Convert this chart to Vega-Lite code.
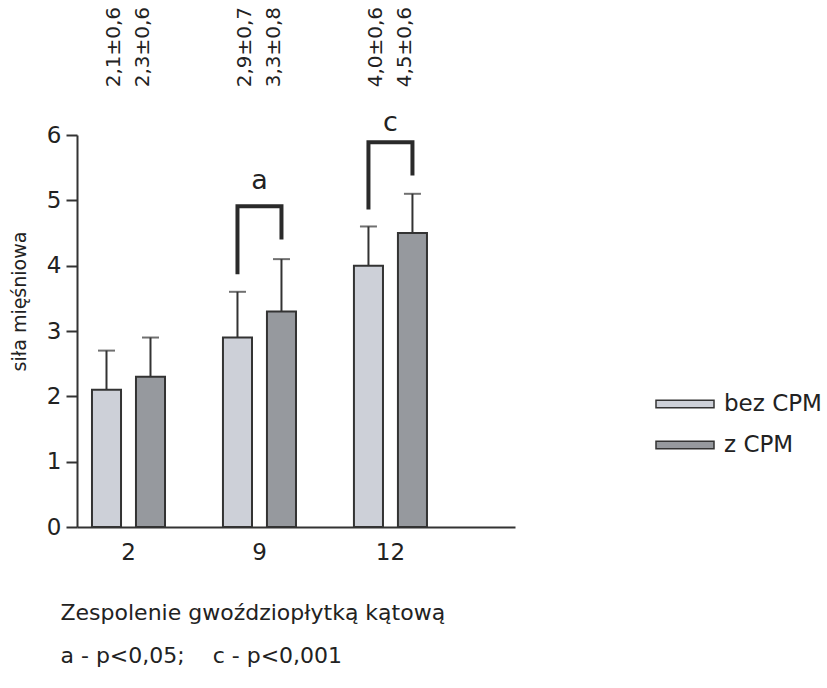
{
  "$schema": "https://vega.github.io/schema/vega-lite/v6.json",
  "width": 438,
  "height": 392,
  "autosize": "none",
  "padding": {"left": 77, "top": 135, "right": 312, "bottom": 161},
  "background": "white",
  "config": {
    "font": "DejaVu Sans",
    "view": {"stroke": null},
    "axis": {"grid": false, "domainColor": "#333333", "domainWidth": 2, "tickColor": "#333333", "tickWidth": 2, "labelColor": "#222222", "titleColor": "#222222", "titleFontWeight": "normal", "labelFont": "DejaVu Sans", "titleFont": "DejaVu Sans"},
    "legend": {"labelFont": "DejaVu Sans"}
  },
  "datasets": {
    "bars": [
      {"g": "2", "s": "bez CPM", "mean": 2.1, "sd": 0.6, "hi": 2.7, "label": "2,1±0,6"},
      {"g": "2", "s": "z CPM", "mean": 2.3, "sd": 0.6, "hi": 2.9, "label": "2,3±0,6"},
      {"g": "9", "s": "bez CPM", "mean": 2.9, "sd": 0.7, "hi": 3.6, "label": "2,9±0,7"},
      {"g": "9", "s": "z CPM", "mean": 3.3, "sd": 0.8, "hi": 4.1, "label": "3,3±0,8"},
      {"g": "12", "s": "bez CPM", "mean": 4.0, "sd": 0.6, "hi": 4.6, "label": "4,0±0,6"},
      {"g": "12", "s": "z CPM", "mean": 4.5, "sd": 0.6, "hi": 5.1, "label": "4,5±0,6"}
    ],
    "brackets": [
      {"br": "a", "g": "9", "s": "bez CPM", "v": 3.87, "o": 1},
      {"br": "a", "g": "9", "s": "bez CPM", "v": 4.91, "o": 2},
      {"br": "a", "g": "9", "s": "z CPM", "v": 4.91, "o": 3},
      {"br": "a", "g": "9", "s": "z CPM", "v": 4.40, "o": 4},
      {"br": "c", "g": "12", "s": "bez CPM", "v": 4.86, "o": 1},
      {"br": "c", "g": "12", "s": "bez CPM", "v": 5.89, "o": 2},
      {"br": "c", "g": "12", "s": "z CPM", "v": 5.89, "o": 3},
      {"br": "c", "g": "12", "s": "z CPM", "v": 5.38, "o": 4}
    ],
    "sig": [
      {"g": "9", "t": "a", "v": 5.29},
      {"g": "12", "t": "c", "v": 6.19}
    ]
  },
  "encoding": {
    "x": {
      "field": "g", "type": "nominal", "sort": ["2", "9", "12"],
      "scale": {"domain": ["2", "9", "12"], "paddingInner": 0.3, "paddingOuter": 0.322, "align": 0.067},
      "axis": {
        "ticks": false, "labelAngle": 0, "labelFontSize": 23, "labelPadding": 14,
        "title": ["Zespolenie gwoździopłytką kątową", "\u00a0a - p<0,05;\u00a0\u00a0\u00a0\u00a0c - p<0,001"],
        "titleFontSize": 22, "titleAnchor": "start", "titleAlign": "left", "titleBaseline": "alphabetic",
        "titleX": -17, "titleY": 92, "titleLineHeight": 43
      }
    }
  },
  "layer": [
    {
      "data": {"name": "bars"},
      "mark": {"type": "bar", "stroke": "#333333", "strokeWidth": 2},
      "encoding": {
        "xOffset": {"field": "s", "type": "nominal", "scale": {"domain": ["bez CPM", "z CPM"], "paddingInner": 0.34, "paddingOuter": 0.212}},
        "y": {
          "field": "mean", "type": "quantitative",
          "scale": {"domain": [0, 6], "nice": false, "zero": true},
          "axis": {"values": [0, 1, 2, 3, 4, 5, 6], "format": "d", "tickSize": 11, "labelFontSize": 23, "labelPadding": 5,
            "title": "siła mięśniowa", "titleFontSize": 19, "titleAngle": 270, "titleAlign": "center", "titleBaseline": "middle", "titleX": -58, "titleY": 166}
        },
        "color": {
          "field": "s", "type": "nominal",
          "scale": {"domain": ["bez CPM", "z CPM"], "range": ["#cdd0d8", "#96999e"]},
          "legend": {
            "title": null, "orient": "none", "legendX": 578, "legendY": 254,
            "symbolType": "M-1,-0.13H1V0.13H-1Z", "symbolSize": 3364, "symbolStrokeColor": "#333333", "symbolStrokeWidth": 1.5,
            "labelFontSize": 23, "labelColor": "#222222", "labelOffset": 9, "clipHeight": 30, "rowPadding": 11, "padding": 0
          }
        }
      }
    },
    {
      "data": {"name": "bars"},
      "mark": {"type": "rule", "color": "#333333", "strokeWidth": 2},
      "encoding": {
        "xOffset": {"field": "s", "type": "nominal"},
        "y": {"field": "mean", "type": "quantitative"},
        "y2": {"field": "hi"}
      }
    },
    {
      "data": {"name": "bars"},
      "mark": {"type": "tick", "color": "#333333", "size": 17, "thickness": 2},
      "encoding": {
        "xOffset": {"field": "s", "type": "nominal"},
        "y": {"field": "hi", "type": "quantitative"}
      }
    },
    {
      "data": {"name": "brackets"},
      "mark": {"type": "line", "color": "#2a2a2a", "strokeWidth": 4, "strokeJoin": "miter", "strokeCap": "butt"},
      "encoding": {
        "xOffset": {"field": "s", "type": "nominal"},
        "y": {"field": "v", "type": "quantitative"},
        "detail": {"field": "br"},
        "order": {"field": "o"}
      }
    },
    {
      "data": {"name": "sig"},
      "mark": {"type": "text", "fontSize": 27, "color": "#222222", "baseline": "middle", "align": "center"},
      "encoding": {
        "y": {"field": "v", "type": "quantitative"},
        "text": {"field": "t"}
      }
    },
    {
      "data": {"name": "bars"},
      "transform": [{"filter": "datum.s === 'bez CPM'"}],
      "mark": {"type": "text", "fontSize": 20, "color": "#222222", "angle": 270, "align": "left", "baseline": "middle", "dy": -14},
      "encoding": {
        "y": {"datum": 6.73, "type": "quantitative"},
        "text": {"field": "label"}
      }
    },
    {
      "data": {"name": "bars"},
      "transform": [{"filter": "datum.s === 'z CPM'"}],
      "mark": {"type": "text", "fontSize": 20, "color": "#222222", "angle": 270, "align": "left", "baseline": "middle", "dy": 15},
      "encoding": {
        "y": {"datum": 6.73, "type": "quantitative"},
        "text": {"field": "label"}
      }
    }
  ]
}
